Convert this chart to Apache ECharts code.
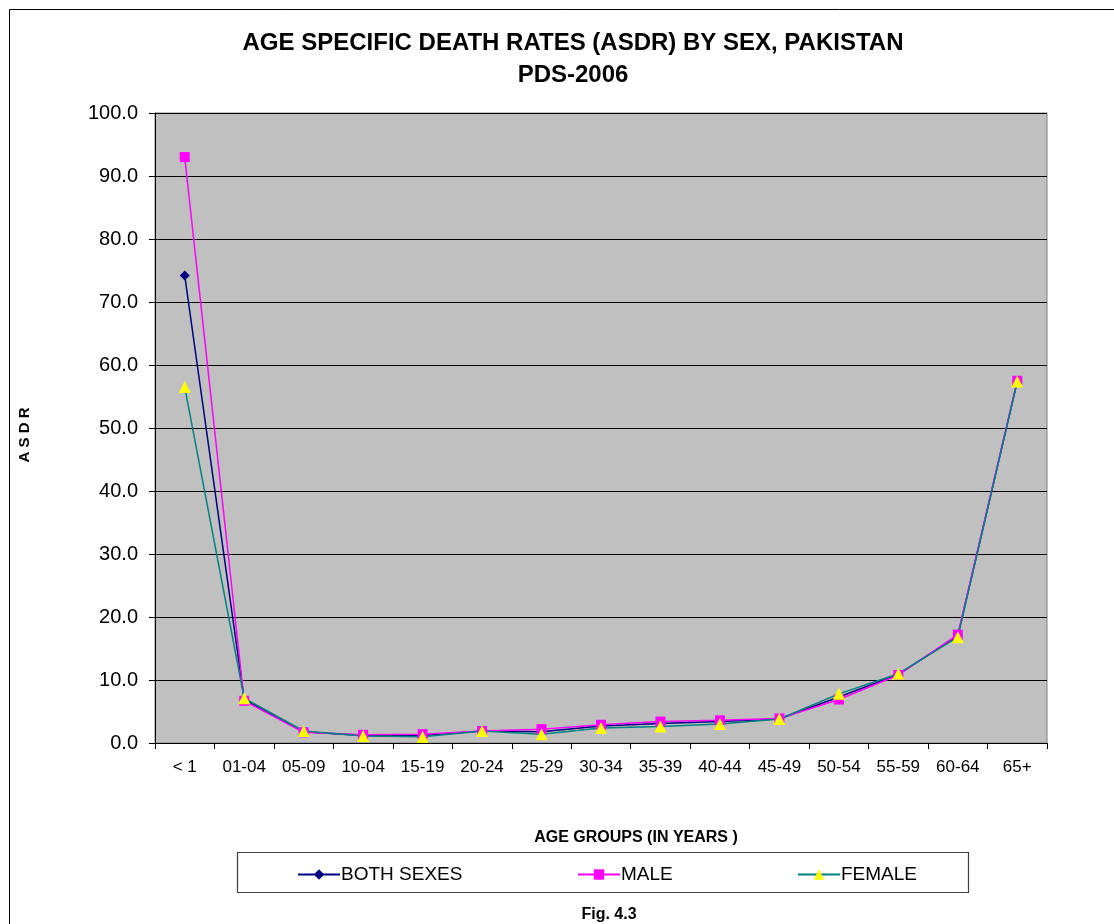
<!DOCTYPE html>
<html>
<head>
<meta charset="utf-8">
<script src="https://cdn.jsdelivr.net/npm/echarts@6/dist/echarts.min.js"></script>
<style>
html,body{margin:0;padding:0;background:#fff;}
#c{width:1114px;height:924px;}
</style>
</head>
<body>
<div id="c"></div>
<script>
const categories = ['< 1','01-04','05-09','10-04','15-19','20-24','25-29','30-34','35-39','40-44','45-49','50-54','55-59','60-64','65+'];
const bothSexes = [74.2, 6.9, 1.8, 1.2, 1.2, 1.9, 1.8, 2.7, 3.1, 3.4, 3.8, 7.3, 10.9, 17.0, 57.4];
const male      = [93.0, 6.7, 1.7, 1.3, 1.4, 1.9, 2.2, 2.9, 3.4, 3.6, 3.9, 6.9, 10.8, 17.2, 57.5];
const female    = [56.5, 7.1, 1.9, 1.1, 1.0, 1.9, 1.4, 2.4, 2.6, 3.0, 3.8, 7.8, 11.0, 16.8, 57.4];
const seriesNames = ['BOTH SEXES', 'MALE', 'FEMALE'];

const FONT = 'Liberation Sans, Arial, sans-serif';
const chart = echarts.init(document.getElementById('c'));

function legendFor(name, left) {
  return {
    data: [name], left: left, top: 865, padding: 0, itemWidth: 42, itemHeight: 13, itemGap: 0,
    textStyle: { fontFamily: FONT, fontSize: 19, color: '#000', padding: [0, 0, 0, -4] },
    selectedMode: false
  };
}

chart.setOption({
  backgroundColor: '#fff',
  animation: false,
  title: [
    { text: 'AGE SPECIFIC DEATH RATES (ASDR) BY SEX, PAKISTAN\nPDS-2006', left: 568, top: 22, textAlign: 'center',
      textStyle: { fontFamily: FONT, fontSize: 24, fontWeight: 'bold', color: '#000', lineHeight: 32 } },
    { text: 'Fig. 4.3', left: 604, top: 902, textAlign: 'center',
      textStyle: { fontFamily: FONT, fontSize: 16, fontWeight: 'bold', color: '#000' } }
  ],
  graphic: [
    { type: 'rect', z: -10, shape: { x: 9.5, y: 9.5, width: 1200, height: 1000 }, style: { fill: 'none', stroke: '#000', lineWidth: 1 } },
    { type: 'rect', shape: { x: 237.5, y: 852.5, width: 731, height: 40 }, style: { fill: '#fff', stroke: '#404040', lineWidth: 1.2 }, z: 0 },
    { type: 'text', x: 636, y: 838, style: { text: 'AGE GROUPS (IN YEARS )', fontFamily: FONT, fontSize: 16, fontWeight: 'bold', fill: '#000', align: 'center', verticalAlign: 'middle' } },
    { type: 'text', x: 25, y: 435, rotation: Math.PI / 2, style: { text: 'A S D R', fontFamily: FONT, fontSize: 15, fontWeight: 'bold', fill: '#000', align: 'center', verticalAlign: 'middle' } }
  ],
  legend: [
    legendFor(seriesNames[0], 297),
    legendFor(seriesNames[1], 577),
    legendFor(seriesNames[2], 797)
  ],
  grid: {
    left: 155, top: 113, right: 67, bottom: 181,
    show: true, backgroundColor: '#c0c0c0', borderColor: '#808080', borderWidth: 1
  },
  xAxis: {
    type: 'category', data: categories, boundaryGap: true,
    axisLine: { lineStyle: { color: '#000', width: 1 } },
    axisTick: { show: true, length: 6, lineStyle: { color: '#000' } },
    axisLabel: { fontFamily: FONT, fontSize: 17, color: '#000', margin: 16, interval: 0 },
    splitLine: { show: false }
  },
  yAxis: {
    type: 'value', min: 0, max: 100, interval: 10,
    axisLine: { show: true, lineStyle: { color: '#000', width: 1 } },
    axisTick: { show: true, length: 6, lineStyle: { color: '#000' } },
    axisLabel: { fontFamily: FONT, fontSize: 20, color: '#000', margin: 17, formatter: v => v.toFixed(1) },
    splitLine: { show: true, lineStyle: { color: '#000', width: 1 } }
  },
  series: [
    { name: seriesNames[0], type: 'line', data: bothSexes, symbol: 'diamond', symbolSize: 10,
      lineStyle: { color: '#000080', width: 1.5 }, itemStyle: { color: '#000080' } },
    { name: seriesNames[1], type: 'line', data: male, symbol: 'rect', symbolSize: 10,
      lineStyle: { color: '#ff00ff', width: 1.5 }, itemStyle: { color: '#ff00ff' } },
    { name: seriesNames[2], type: 'line', data: female, symbol: 'triangle', symbolSize: 12,
      lineStyle: { color: '#008080', width: 1.5 }, itemStyle: { color: '#ffff00' } }
  ]
});
</script>
</body>
</html>
